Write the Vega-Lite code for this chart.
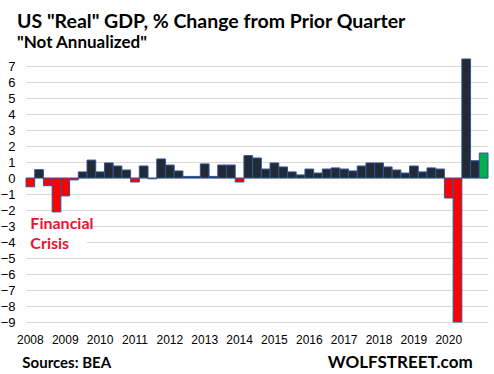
{
  "$schema": "https://vega.github.io/schema/vega-lite/v6.json",
  "width": 462,
  "height": 264,
  "autosize": {"type": "none"},
  "padding": {"left": 26, "top": 58, "right": 6, "bottom": 52},
  "background": "white",
  "config": {
    "view": {"stroke": null},
    "axisY": {
      "title": null, "values": [-9,-8,-7,-6,-5,-4,-3,-2,-1,0,1,2,3,4,5,6,7], "tickCount": 30, "format": "d",
      "domain": false, "ticks": false, "grid": true, "gridColor": "#d9d9d9", "gridWidth": 1, "gridOpacity": 1,
      "labelOverlap": false, "labelBound": false, "labelFlush": false,
      "labelFont": "Liberation Sans", "labelFontSize": 13, "labelColor": "#000000", "labelPadding": 11
    },
    "axisX": {
      "title": null, "domain": false, "ticks": false, "grid": false, "labelAngle": 0,
      "labelFont": "Liberation Sans", "labelFontSize": 12, "labelColor": "#000000",
      "labelPadding": 12, "labelOverlap": false, "labelBound": false, "labelFlush": false
    }
  },
  "title": {
    "text": "US \"Real\" GDP, % Change from Prior Quarter",
    "subtitle": "\"Not Annualized\"",
    "anchor": "start",
    "frame": "group",
    "dx": -9,
    "offset": 6,
    "font": "Lato",
    "fontSize": 19.5,
    "fontWeight": "bold",
    "color": "#000000",
    "subtitleFont": "Lato",
    "subtitleFontSize": 17,
    "subtitleFontWeight": "bold",
    "subtitleColor": "#000000",
    "subtitlePadding": 3
  },
  "data": {"values": [
    {"q": "2008Q1", "v": -0.55}, {"q": "2008Q2", "v": 0.52}, {"q": "2008Q3", "v": -0.48}, {"q": "2008Q4", "v": -2.12},
    {"q": "2009Q1", "v": -1.12}, {"q": "2009Q2", "v": -0.12}, {"q": "2009Q3", "v": 0.38}, {"q": "2009Q4", "v": 1.12},
    {"q": "2010Q1", "v": 0.38}, {"q": "2010Q2", "v": 0.94}, {"q": "2010Q3", "v": 0.75}, {"q": "2010Q4", "v": 0.5},
    {"q": "2011Q1", "v": -0.25}, {"q": "2011Q2", "v": 0.75}, {"q": "2011Q3", "v": -0.05}, {"q": "2011Q4", "v": 1.19},
    {"q": "2012Q1", "v": 0.81}, {"q": "2012Q2", "v": 0.44}, {"q": "2012Q3", "v": 0.1}, {"q": "2012Q4", "v": 0.1},
    {"q": "2013Q1", "v": 0.88}, {"q": "2013Q2", "v": 0.1}, {"q": "2013Q3", "v": 0.81}, {"q": "2013Q4", "v": 0.81},
    {"q": "2014Q1", "v": -0.25}, {"q": "2014Q2", "v": 1.4}, {"q": "2014Q3", "v": 1.25}, {"q": "2014Q4", "v": 0.56},
    {"q": "2015Q1", "v": 0.94}, {"q": "2015Q2", "v": 0.69}, {"q": "2015Q3", "v": 0.38}, {"q": "2015Q4", "v": 0.19},
    {"q": "2016Q1", "v": 0.56}, {"q": "2016Q2", "v": 0.31}, {"q": "2016Q3", "v": 0.56}, {"q": "2016Q4", "v": 0.63},
    {"q": "2017Q1", "v": 0.56}, {"q": "2017Q2", "v": 0.44}, {"q": "2017Q3", "v": 0.75}, {"q": "2017Q4", "v": 0.94},
    {"q": "2018Q1", "v": 0.94}, {"q": "2018Q2", "v": 0.69}, {"q": "2018Q3", "v": 0.5}, {"q": "2018Q4", "v": 0.31},
    {"q": "2019Q1", "v": 0.75}, {"q": "2019Q2", "v": 0.38}, {"q": "2019Q3", "v": 0.63}, {"q": "2019Q4", "v": 0.56},
    {"q": "2020Q1", "v": -1.25}, {"q": "2020Q2", "v": -9.0}, {"q": "2020Q3", "v": 7.44}, {"q": "2020Q4", "v": 1.08},
    {"q": "2021Q1", "v": 1.56}
  ]},
  "layer": [
    {
      "mark": {"type": "bar", "stroke": "#2f5597", "strokeWidth": 1},
      "encoding": {
        "x": {
          "field": "q", "type": "ordinal",
          "scale": {"paddingInner": 0, "paddingOuter": 0},
          "axis": {
            "labelExpr": "slice(datum.value, 4) == 'Q1' && datum.value != '2021Q1' ? slice(datum.value, 0, 4) : ''"
          }
        },
        "y": {
          "field": "v", "type": "quantitative",
          "scale": {"domain": [-9, 7.5], "nice": false, "zero": false},
          "axis": {"values": [-9,-8,-7,-6,-5,-4,-3,-2,-1,0,1,2,3,4,5,6,7], "tickCount": 30, "format": "d", "labelOverlap": false, "grid": true}
        },
        "fill": {
          "condition": [
            {"test": "datum.q == '2021Q1'", "value": "#00b050"},
            {"test": "datum.v < 0", "value": "#ff0000"}
          ],
          "value": "#222a35"
        }
      }
    },
    {
      "data": {"values": [{}]},
      "mark": {"type": "rect", "fill": "white"},
      "encoding": {
        "x": {"datum": "2008Q1", "bandPosition": 0},
        "x2": {"datum": "2009Q4", "bandPosition": 0},
        "y": {"datum": -2.35},
        "y2": {"datum": -4.6}
      }
    },
    {
      "data": {"values": [{}]},
      "mark": {"type": "text", "text": ["Financial", "Crisis"], "align": "left", "baseline": "alphabetic", "font": "Lato", "fontSize": 16, "fontWeight": "bold", "color": "#ee1133", "lineHeight": 20, "dx": 0},
      "encoding": {
        "x": {"datum": "2008Q1"},
        "y": {"datum": -3.17}
      }
    },
    {
      "data": {"values": [{}]},
      "mark": {"type": "text", "text": "Sources: BEA", "align": "left", "baseline": "middle", "font": "Lato", "fontSize": 15, "fontWeight": "bold", "color": "#000000", "dx": -8},
      "encoding": {
        "x": {"datum": "2008Q1"},
        "y": {"datum": -11.55}
      }
    },
    {
      "data": {"values": [{}]},
      "mark": {"type": "text", "text": "WOLFSTREET.com", "align": "right", "baseline": "middle", "font": "Lato", "fontSize": 17, "fontWeight": "bold", "color": "#000000", "dx": -11},
      "encoding": {
        "x": {"datum": "2021Q1"},
        "y": {"datum": -11.55}
      }
    }
  ]
}
